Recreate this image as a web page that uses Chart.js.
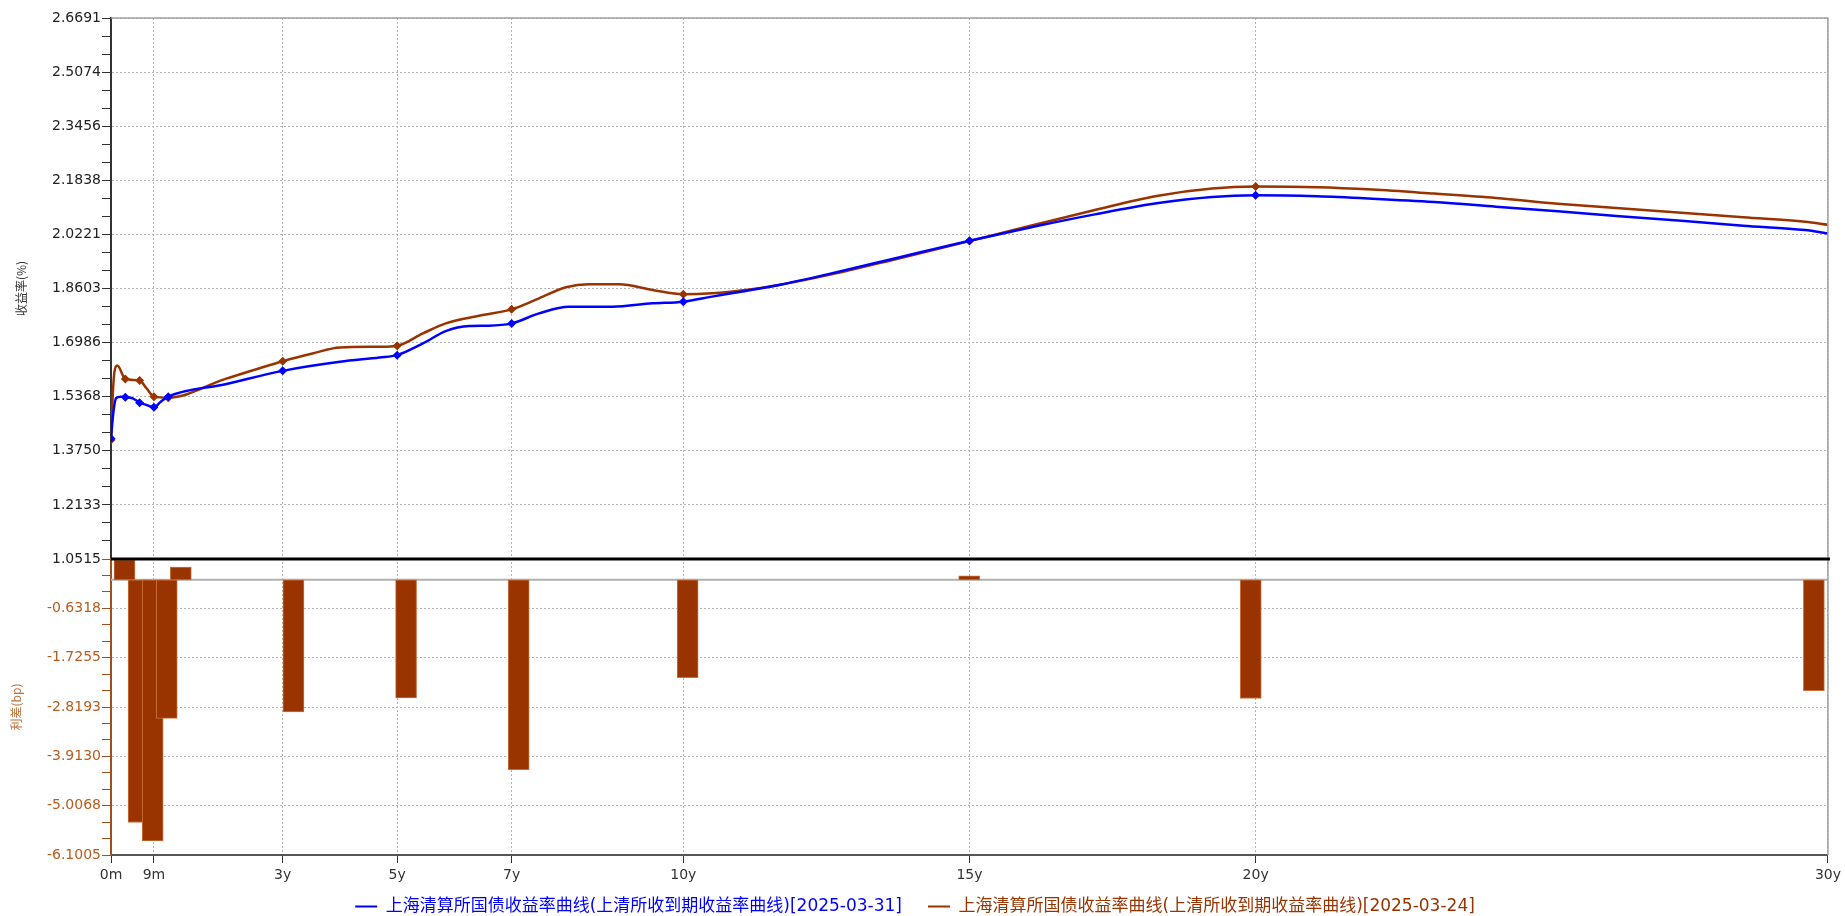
<!DOCTYPE html>
<html>
<head>
<meta charset="utf-8">
<script src="https://cdn.jsdelivr.net/npm/chart.js@4"></script>
<style>
html, body { margin: 0; padding: 0; background: #fff; }
#wrap { width: 1845px; height: 916px; }
</style>
</head>
<body>
<div id="wrap"><canvas id="curveChart"></canvas></div>
<script>
// 2025-03-31 curve (blue)
const blueTenors = [0, 0.04, 0.09, 0.17, 0.25, 0.38, 0.5, 0.62, 0.75, 0.87, 1, 2, 3, 4, 4.69, 5, 5.45, 5.85, 6.26, 6.6, 7, 7.48, 8, 8.76, 9.46, 10, 10.5, 11.09, 11.67, 12.55, 13.71, 15, 16.12, 17.19, 18.27, 19.24, 20, 21.08, 22.04, 23.12, 24.2, 25.28, 26.36, 27.44, 28.52, 29.6, 30];
const blueYields = [1.4115, 1.488, 1.533, 1.537, 1.535, 1.532, 1.519, 1.512, 1.505, 1.522, 1.537, 1.574, 1.614, 1.641, 1.654, 1.661, 1.696, 1.733, 1.748, 1.749, 1.756, 1.786, 1.806, 1.806, 1.816, 1.821, 1.836, 1.853, 1.871, 1.904, 1.951, 2.003, 2.045, 2.082, 2.115, 2.134, 2.139, 2.136, 2.129, 2.119, 2.105, 2.091, 2.076, 2.063, 2.048, 2.035, 2.025];

// 2025-03-24 curve (brown)
const brownTenors = [0, 0.03, 0.06, 0.11, 0.25, 0.5, 0.62, 0.75, 1, 2, 3, 3.52, 4, 4.7, 5, 5.45, 5.85, 6.43, 7, 7.48, 7.95, 8.35, 8.88, 9.46, 10, 10.5, 11.09, 11.67, 12.55, 13.71, 15, 16.12, 17.19, 18.27, 19.24, 20, 21.08, 22.04, 23.12, 24.2, 25.28, 26.36, 27.44, 28.52, 29.6, 30];
const brownYields = [1.407, 1.54, 1.611, 1.630, 1.590, 1.585, 1.562, 1.537, 1.534, 1.590, 1.643, 1.666, 1.684, 1.686, 1.689, 1.726, 1.756, 1.779, 1.798, 1.831, 1.864, 1.873, 1.873, 1.856, 1.843, 1.846, 1.856, 1.871, 1.901, 1.948, 2.002, 2.050, 2.095, 2.137, 2.159, 2.165, 2.163, 2.156, 2.144, 2.131, 2.114, 2.100, 2.087, 2.073, 2.060, 2.051];

// key tenors: markers on the curves and the spread bars (bp)
const keyTenors = [0, 0.25, 0.5, 0.75, 1, 3, 5, 7, 10, 15, 20, 30];
const markerTenors = [0, 0.25, 0.5, 0.75, 1, 3, 5, 7, 10, 15, 20];
const spreadBp = [0.44, -5.38, -5.79, -3.07, 0.28, -2.93, -2.62, -4.21, -2.17, 0.09, -2.63, -2.46];

// axis ticks
const xTicks = [0, 0.75, 3, 5, 7, 10, 15, 20, 30];
const xTickLabels = ['0m', '9m', '3y', '5y', '7y', '10y', '15y', '20y', '30y'];
const yieldTicks = [1.0515, 1.2133, 1.3750, 1.5368, 1.6986, 1.8603, 2.0221, 2.1838, 2.3456, 2.5074, 2.6691];
const spreadTicks = [-6.1005, -5.0068, -3.9130, -2.8193, -1.7255, -0.6318, 0.4619];

const legendLabels = ['上海清算所国债收益率曲线(上清所收到期收益率曲线)[2025-03-31]', '上海清算所国债收益率曲线(上清所收到期收益率曲线)[2025-03-24]'];

const BLUE = '#0000ff';
const BROWN = '#993300';
const TICK_FONT = { family: 'DejaVu Sans', size: 14 };

// majors plus two minor ticks in each gap
function withMinors(majors) {
  const out = [];
  majors.forEach((v, i) => {
    out.push({ value: v });
    if (i < majors.length - 1) {
      const step = (majors[i + 1] - v) / 3;
      out.push({ value: v + step, minor: true }, { value: v + 2 * step, minor: true });
    }
  });
  return out;
}

const gridColor = c => (c.tick && c.tick.minor) ? 'rgba(0,0,0,0)' : '#b4b4b4';

const framePlugin = {
  id: 'frame',
  afterLayout(chart) {
    // let the x labels run below the short x-axis box (legend sits close under it)
    chart.scales.x.bottom += 16;
  },
  beforeDatasetsDraw(chart) {
    const { ctx, chartArea: a, scales } = chart;
    const y0 = scales.ySpread.getPixelForValue(0);
    ctx.save();
    ctx.strokeStyle = '#b0b0b0';
    ctx.lineWidth = 2;
    ctx.beginPath();
    ctx.moveTo(a.left, y0);
    ctx.lineTo(a.right, y0);
    ctx.stroke();
    ctx.restore();
  },
  afterDraw(chart) {
    const { ctx, chartArea: a, scales } = chart;
    const ySep = scales.yYield.getPixelForValue(scales.yYield.min);
    ctx.save();
    ctx.strokeStyle = '#a0a0a0';
    ctx.lineWidth = 1.5;
    ctx.beginPath();
    ctx.moveTo(a.left, a.top);
    ctx.lineTo(a.right, a.top);
    ctx.lineTo(a.right, a.bottom);
    ctx.stroke();
    ctx.strokeStyle = '#000';
    ctx.lineWidth = 3;
    ctx.beginPath();
    ctx.moveTo(a.left, ySep);
    ctx.lineTo(a.right + 2, ySep);
    ctx.stroke();
    ctx.restore();
  }
};

const lineStyle = color => ({
  type: 'line',
  borderColor: color,
  backgroundColor: color,
  borderWidth: 2.5,
  cubicInterpolationMode: 'monotone',
  pointStyle: 'rectRot',
  pointRadius: c => (c.raw && markerTenors.includes(c.raw.x)) ? 4.5 : 0,
  pointBorderWidth: 0,
  fill: false,
  xAxisID: 'x',
  yAxisID: 'yYield'
});

new Chart('curveChart', {
  type: 'line',
  data: {
    datasets: [
      Object.assign(lineStyle(BLUE), {
        label: legendLabels[0],
        data: blueTenors.map((t, i) => ({ x: t, y: blueYields[i] }))
      }),
      Object.assign(lineStyle(BROWN), {
        label: legendLabels[1],
        data: brownTenors.map((t, i) => ({ x: t, y: brownYields[i] }))
      }),
      {
        type: 'bar',
        label: 'spread',
        data: keyTenors.map((t, i) => ({ x: t, y: spreadBp[i] })),
        backgroundColor: BROWN,
        borderColor: '#c8703c',
        borderWidth: 1,
        borderSkipped: false,
        barThickness: 21,
        grouped: false,
        xAxisID: 'xBar',
        yAxisID: 'ySpread'
      }
    ]
  },
  options: {
    animation: false,
    responsive: true,
    maintainAspectRatio: false,
    layout: { padding: { left: 0, right: 15, top: 18, bottom: 0 } },
    plugins: {
      tooltip: { enabled: false },
      legend: {
        position: 'bottom',
        maxHeight: 44,
        labels: {
          boxWidth: 22,
          boxHeight: 2,
          padding: 26,
          font: { family: 'DejaVu Sans, "Noto Sans CJK SC"', size: 17, lineHeight: 1 },
          generateLabels: chart => chart.data.datasets
            .map((d, i) => ({ d, i }))
            .filter(o => o.d.type === 'line')
            .map(o => ({
              text: o.d.label,
              fillStyle: o.d.borderColor,
              strokeStyle: o.d.borderColor,
              lineWidth: 0,
              fontColor: o.d.borderColor,
              datasetIndex: o.i,
              hidden: false
            }))
        }
      }
    },
    scales: {
      x: {
        type: 'linear',
        position: 'bottom',
        min: 0,
        max: 30,
        afterBuildTicks: s => { s.ticks = xTicks.map(v => ({ value: v })); },
        afterFit: s => { s.height = 17; },
        ticks: {
          autoSkip: false,
          maxRotation: 0,
          padding: 4,
          color: '#333',
          font: TICK_FONT,
          callback: (v, i) => xTickLabels[i]
        },
        grid: { color: '#b4b4b4', tickColor: '#333', tickLength: 8, lineWidth: 1 },
        border: { display: true, color: '#555', width: 2, dash: [2, 2] }
      },
      xBar: {
        type: 'linear',
        display: false,
        offset: false,
        grid: { offset: false },
        min: -0.24,
        max: 30.25
      },
      yYield: {
        type: 'linear',
        position: 'left',
        stack: 'panels',
        stackWeight: 541,
        weight: 1,
        min: 1.0515,
        max: 2.6691,
        afterBuildTicks: s => { s.ticks = withMinors(yieldTicks); },
        afterFit: s => { s.width = 111; },
        title: {
          display: true,
          text: '收益率(%)',
          color: '#333',
          font: { family: '"Noto Sans CJK SC"', size: 12 },
          padding: { top: 14, bottom: 0 }
        },
        ticks: {
          autoSkip: false,
          padding: 1,
          color: '#222',
          font: TICK_FONT,
          callback: (v, i, ticks) => ticks[i].minor ? '' : v.toFixed(4)
        },
        grid: { color: gridColor, tickColor: '#333', tickLength: 9, lineWidth: 1 },
        border: { display: true, color: '#333', width: 2, dash: [2, 2] }
      },
      ySpread: {
        type: 'linear',
        position: 'left',
        stack: 'panels',
        stackWeight: 296,
        weight: 0,
        min: -6.1005,
        max: 0.4619,
        afterBuildTicks: s => { s.ticks = withMinors(spreadTicks); },
        afterFit: s => { s.width = 111; },
        title: {
          display: true,
          text: '利差(bp)',
          color: '#c0703a',
          font: { family: '"Noto Sans CJK SC"', size: 12 },
          padding: { top: 9, bottom: 0 }
        },
        ticks: {
          autoSkip: false,
          padding: 1,
          color: '#b85c1e',
          font: TICK_FONT,
          callback: (v, i, ticks) => (ticks[i].minor || i === ticks.length - 1) ? '' : v.toFixed(4)
        },
        grid: { color: gridColor, tickColor: '#a0501e', tickLength: 9, lineWidth: 1 },
        border: { display: true, color: '#a0501e', width: 2, dash: [2, 2] }
      }
    }
  },
  plugins: [framePlugin]
});
</script>
</body>
</html>
